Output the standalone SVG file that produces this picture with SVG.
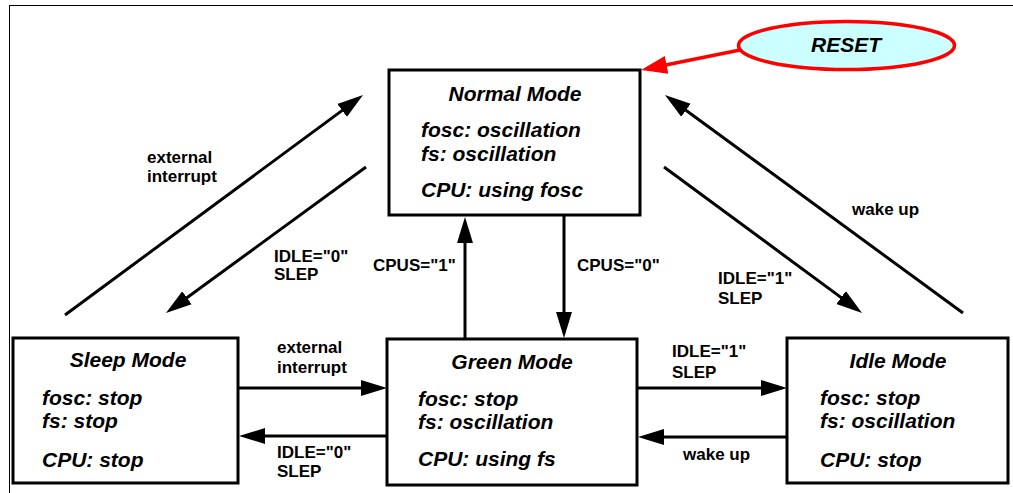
<svg xmlns="http://www.w3.org/2000/svg" width="1013" height="493" viewBox="0 0 1013 493">
<style>
.box{fill:#fff;stroke:#000;stroke-width:3}
.t{font-family:"Liberation Sans",Arial,sans-serif;font-weight:bold;font-style:italic;font-size:21px;fill:#000}
.title{text-anchor:middle}
.lbl{font-family:"Liberation Sans",Arial,sans-serif;font-weight:bold;font-size:17px;fill:#000}
.c{stroke:#000;stroke-width:3;fill:none;marker-end:url(#ah)}
</style>
<defs>
<marker id="ah" markerUnits="userSpaceOnUse" markerWidth="26" markerHeight="18" viewBox="0 0 26 18" refX="20" refY="9" orient="auto">
<path d="M0,1 L26,9 L0,17 z" fill="#000"/>
</marker>
<marker id="ahr" markerUnits="userSpaceOnUse" markerWidth="26" markerHeight="20" viewBox="0 0 26 20" refX="20" refY="10" orient="auto">
<path d="M0,1 L26,10 L0,19 z" fill="#f00"/>
</marker>
</defs>
<rect x="9.5" y="5.5" width="1020" height="500" fill="#fff" stroke="#000" stroke-width="1"/>
<g id="connectors">
<line class="c" x1="65" y1="315" x2="358.2" y2="98.6"/>
<line class="c" x1="366" y1="167" x2="170.8" y2="309.5"/>
<line class="c" x1="963" y1="313" x2="669.8" y2="98.5"/>
<line class="c" x1="664" y1="167" x2="857.2" y2="309.4"/>
<line class="c" x1="465" y1="339" x2="465" y2="223"/>
<line class="c" x1="564" y1="215" x2="564" y2="332"/>
<line class="c" x1="238" y1="388" x2="381" y2="388"/>
<line class="c" x1="387" y1="436" x2="245" y2="436"/>
<line class="c" x1="637" y1="388" x2="781" y2="388"/>
<line class="c" x1="787" y1="437" x2="644" y2="437"/>
<line x1="740" y1="50" x2="647" y2="68.8" stroke="#f00" stroke-width="3.5" marker-end="url(#ahr)"/>
<text class="lbl" x="147" y="163">external</text>
<text class="lbl" x="147" y="182">interrupt</text>
<text class="lbl" x="274" y="262">IDLE="0"</text>
<text class="lbl" x="274" y="280">SLEP</text>
<text class="lbl" x="852" y="215">wake up</text>
<text class="lbl" x="718" y="284">IDLE="1"</text>
<text class="lbl" x="718" y="304">SLEP</text>
<text class="lbl" x="373" y="271">CPUS="1"</text>
<text class="lbl" x="577" y="271">CPUS="0"</text>
<text class="lbl" x="277" y="353">external</text>
<text class="lbl" x="277" y="373">interrupt</text>
<text class="lbl" x="277" y="458">IDLE="0"</text>
<text class="lbl" x="277" y="477">SLEP</text>
<text class="lbl" x="672" y="357">IDLE="1"</text>
<text class="lbl" x="672" y="378">SLEP</text>
<text class="lbl" x="683" y="460">wake up</text>
</g>
<g id="reset">
<ellipse cx="846.5" cy="45.5" rx="108" ry="24" fill="#ccffff" stroke="#f00" stroke-width="3.5"/>
<text class="t title" x="846" y="52">RESET</text>
</g>
<g id="normal">
<rect class="box" x="389" y="70" width="251" height="145"/>
<text class="t title" x="515" y="101">Normal Mode</text>
<text class="t" x="421" y="137">fosc: oscillation</text>
<text class="t" x="421" y="161">fs: oscillation</text>
<text class="t" x="421" y="197">CPU: using fosc</text>
</g>
<g id="sleep">
<rect class="box" x="13" y="338" width="225" height="145"/>
<text class="t title" x="128" y="367">Sleep Mode</text>
<text class="t" x="42" y="405">fosc: stop</text>
<text class="t" x="42" y="428">fs: stop</text>
<text class="t" x="42" y="467">CPU: stop</text>
</g>
<g id="green">
<rect class="box" x="387" y="339" width="250" height="146"/>
<text class="t title" x="512" y="369">Green Mode</text>
<text class="t" x="418" y="406">fosc: stop</text>
<text class="t" x="418" y="429">fs: oscillation</text>
<text class="t" x="418" y="466">CPU: using fs</text>
</g>
<g id="idle">
<rect class="box" x="787" y="338" width="221" height="145"/>
<text class="t title" x="898" y="368">Idle Mode</text>
<text class="t" x="820" y="405">fosc: stop</text>
<text class="t" x="820" y="428">fs: oscillation</text>
<text class="t" x="820" y="467">CPU: stop</text>
</g>
</svg>
